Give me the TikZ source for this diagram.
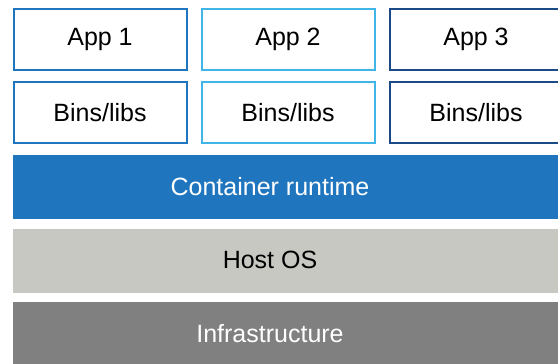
\documentclass[tikz,border=0pt]{standalone}
\usepackage{fontspec}
\setmainfont{Liberation Sans}
\usepackage{xcolor}
\usetikzlibrary{positioning}
\definecolor{appblue}{RGB}{31,117,190}
\definecolor{applight}{RGB}{65,182,230}
\definecolor{appdark}{RGB}{27,75,135}
\definecolor{hostgray}{RGB}{200,200,195}
\definecolor{infragray}{RGB}{128,128,128}
\begin{document}
\begin{tikzpicture}[
			     x=1pt, y=-1pt,
			     font=\fontsize{25}{30}\selectfont,
			     appbox/.style={draw=#1, line width=2pt, fill=white, minimum width=173pt, minimum height=61pt, inner sep=0pt},
			     layer/.style={fill=#1, minimum width=551pt, minimum height=64pt, inner sep=0pt},
			     caption/.style={text=#1, inner sep=0pt},
			     node distance=10pt
			     ]
\path[clip] (0,0) rectangle (558,364);
\node[appbox=appblue] (app1) at (100,39.5) {App 1};
\node[appbox=applight] (app2) at (288,39.5) {App 2};
\node[appbox=appdark] (app3) at (476,39.5) {App 3};
\node[appbox=appblue, below=of app1] (bins1) {Bins/libs};
\node[appbox=applight, below=of app2] (bins2) {Bins/libs};
\node[appbox=appdark, below=of app3] (bins3) {Bins/libs};
\node[layer=appblue] (runtime) at (288,187) {};
\node[layer=hostgray] (host) at (288,261) {};
\node[layer=infragray] (infra) at (288,334) {};
\node[caption=white] (runtime text) at ([xshift=-18pt]runtime.center) {Container runtime};
\node[caption=black] (host text) at ([xshift=-18pt,yshift=1.5pt]host.center) {Host OS};
\node[caption=white] (infra text) at ([xshift=-18pt]infra.center) {Infrastructure};
\end{tikzpicture}
\end{document}
